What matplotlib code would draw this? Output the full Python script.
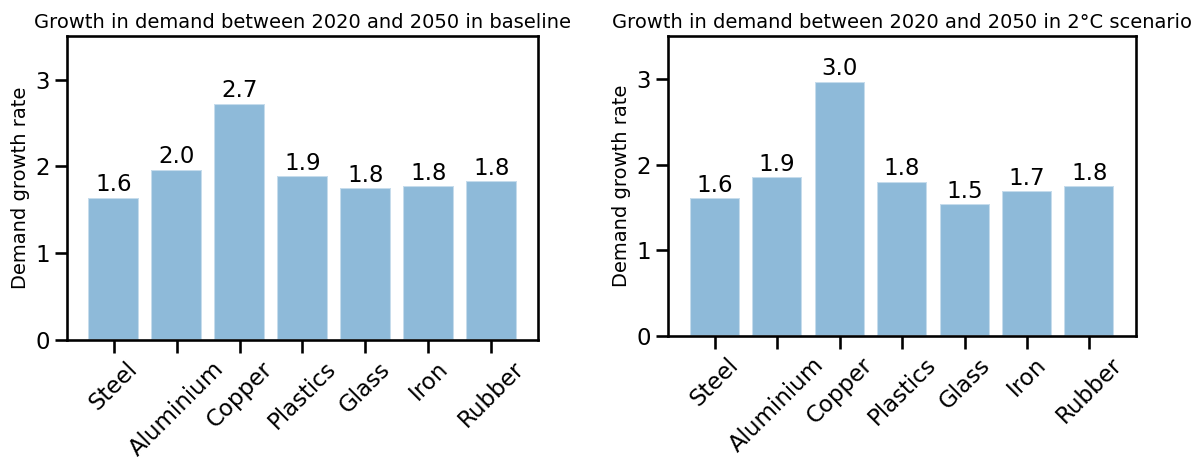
import matplotlib
matplotlib.use("Agg")
import matplotlib.pyplot as plt
import seaborn as sns

sns.set_context("talk")
sns.set_style("ticks", {"axes.edgecolor": "black", "xtick.color": "black",
                        "ytick.color": "black", "text.color": "black",
                        "axes.labelcolor": "black"})
plt.rcParams['font.family'] = ['DejaVu Sans']

# data
materials = ["Steel", "Aluminium", "Copper", "Plastics", "Glass", "Iron", "Rubber"]
baseline = [1.64, 1.96, 2.72, 1.89, 1.75, 1.77, 1.83]
scenario_2c = [1.61, 1.85, 2.97, 1.80, 1.54, 1.69, 1.75]

titles = ["Growth in demand between 2020 and 2050 in baseline",
          "Growth in demand between 2020 and 2050 in 2°C scenario"]

fig = plt.figure(figsize=(11.98, 4.57), dpi=100)
ax1 = fig.add_axes([0.056, 0.256, 0.393, 0.665])
ax2 = fig.add_axes([0.558, 0.265, 0.390, 0.656])

for ax, vals, title in zip([ax1, ax2], [baseline, scenario_2c], titles):
    bars = ax.bar(materials, vals, color="tab:blue", alpha=0.5)
    ax.bar_label(bars, fmt="%.1f", padding=1, fontsize=16.5)
    ax.set_ylim(0, 3.5)
    ax.set_yticks([0, 1, 2, 3])
    ax.set_title(title, fontsize=14, pad=6)
    ax.set_ylabel("Demand growth rate", fontsize=14)
    ax.tick_params(axis="x", rotation=45)
    for lbl in ax.get_xticklabels():
        lbl.set_ha("center")

fig.savefig("out.png", dpi=100)
